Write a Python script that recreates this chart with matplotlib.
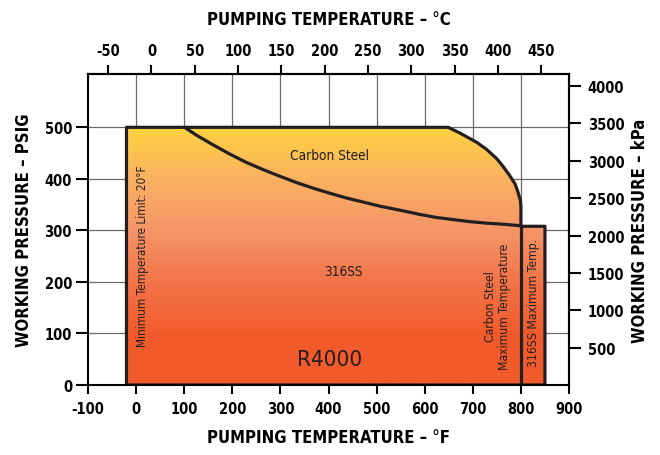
import numpy as np
import matplotlib
matplotlib.use("Agg")
import matplotlib.pyplot as plt
from matplotlib.patches import Polygon
from matplotlib.colors import LinearSegmentedColormap

plt.rcParams['font.family'] = ['DejaVu Sans']
plt.rcParams['font.stretch'] = 'condensed'
plt.rcParams['axes.unicode_minus'] = False

# ---- data ----
min_temp_f = -20
max_press_psig = 500
cs_max_temp_f = 800
ss_max_temp_f = 850
ss_max_press_psig = 308

# Carbon steel upper-right corner curve (°F, psig)
cs_curve_temp = [649, 673, 708, 729, 750, 763, 777, 788, 794, 799, 800]
cs_curve_press = [500, 489, 471, 457, 439, 424, 406, 390, 374, 358, 345]

# 316SS / carbon steel dividing curve (°F, psig)
ss_curve_temp = [101, 125, 160, 195, 229, 264, 299, 333, 368, 403, 437, 472,
                 507, 555, 590, 625, 659, 694, 729, 763, 800]
ss_curve_press = [500, 485, 466, 448, 432, 418, 405, 393, 382, 372, 363, 355,
                  347, 338, 331, 325, 321, 317, 314, 312, 309]

x_ticks_f = [-100, 0, 100, 200, 300, 400, 500, 600, 700, 800, 900]
y_ticks_psig = [0, 100, 200, 300, 400, 500]
x_ticks_c = [-50, 0, 50, 100, 150, 200, 250, 300, 350, 400, 450]
y_ticks_kpa = [500, 1000, 1500, 2000, 2500, 3000, 3500, 4000]

grad_colors = ['#F15A2B', '#F15C2D', '#F27448', '#F59568', '#FAB262', '#FFD23F']

# ---- figure ----
fig = plt.figure(figsize=(6.6, 4.56), dpi=100)
ax = fig.add_axes([88 / 660, 70 / 456, (569 - 88) / 660, (386 - 75) / 456])
ax.set_xlim(-100, 900)
ax.set_ylim(0, 603.5)

# grid
ax.set_xticks(x_ticks_f)
ax.set_yticks(y_ticks_psig)
for xv in x_ticks_f[1:-1]:
    ax.axvline(xv, color='#6a6a6a', lw=0.9, zorder=0)
for yv in y_ticks_psig[1:]:
    ax.axhline(yv, color='#6a6a6a', lw=0.9, zorder=0)

# envelope polygon
env = [(min_temp_f, 0), (min_temp_f, max_press_psig)]
env += list(zip(cs_curve_temp, cs_curve_press))
env += [(cs_max_temp_f, ss_max_press_psig), (ss_max_temp_f, ss_max_press_psig),
        (ss_max_temp_f, 0)]
poly = Polygon(env, closed=True, facecolor='none', edgecolor='#231F20',
               lw=2.3, zorder=4, joinstyle='round')
ax.add_patch(poly)

cmap = LinearSegmentedColormap.from_list('grad', grad_colors)
grad = np.linspace(0, 1, 256).reshape(-1, 1)
im = ax.imshow(grad, extent=[min_temp_f, ss_max_temp_f, 0, max_press_psig],
               origin='lower', aspect='auto', cmap=cmap, zorder=2,
               interpolation='bilinear')
clip = Polygon(env, closed=True, transform=ax.transData)
im.set_clip_path(clip)

# divider lines
ax.plot(ss_curve_temp, ss_curve_press, color='#231F20', lw=2.3, zorder=5,
        solid_capstyle='butt', solid_joinstyle='round')
ax.plot([cs_max_temp_f, cs_max_temp_f], [0, ss_max_press_psig], color='#231F20',
        lw=2.3, zorder=5)

# texts inside
tc = '#231F20'
ax.text(403, 446, 'Carbon Steel', ha='center', va='center', fontsize=9.8, color=tc, zorder=6)
ax.text(430, 221, '316SS', ha='center', va='center', fontsize=9.8, color=tc, zorder=6)
ax.text(402, 50, 'R4000', ha='center', va='center', fontsize=16, color=tc, zorder=6)
ax.text(14, 251, 'Minimum Temperature Limit: 20°F', rotation=90, ha='center',
        va='center', fontsize=8.5, color=tc, zorder=6)
ax.text(751, 154, 'Carbon Steel\nMaximum Temperature', rotation=90, ha='center',
        va='center', fontsize=8.7, color=tc, zorder=6, multialignment='center',
        linespacing=1.1)
ax.text(826, 161, '316SS Maximum Temp.', rotation=90, ha='center',
        va='center', fontsize=8.7, color=tc, zorder=6)

# spines and ticks
for s in ax.spines.values():
    s.set_linewidth(1.5)
    s.set_zorder(7)
ax.tick_params(axis='x', direction='out', length=6.5, width=1.5, labelsize=10.5, pad=5)
ax.tick_params(axis='y', direction='out', length=8.5, width=1.5, labelsize=10.5, pad=3)
for lab in ax.get_xticklabels() + ax.get_yticklabels():
    lab.set_fontweight('bold')

ax.set_xlabel('PUMPING TEMPERATURE – °F', fontsize=12, fontweight='bold', labelpad=9)
ax.set_ylabel('WORKING PRESSURE – PSIG', fontsize=12, fontweight='bold', labelpad=8)

secx = ax.secondary_xaxis('top', functions=(lambda f: (f - 32) * 5 / 9,
                                            lambda c: c * 9 / 5 + 32))
secx.set_xticks(x_ticks_c)
secx.tick_params(direction='out', length=6.5, width=1.5, labelsize=10.5, pad=5)
for lab in secx.get_xticklabels():
    lab.set_fontweight('bold')
secx.set_xlabel('PUMPING TEMPERATURE – °C', fontsize=12, fontweight='bold', labelpad=14)
secx.spines['top'].set_linewidth(1.5)

secy = ax.secondary_yaxis('right', functions=(lambda p: p * 6.89476,
                                              lambda k: k / 6.89476))
secy.set_yticks(y_ticks_kpa)
secy.tick_params(direction='out', length=8.5, width=1.5, labelsize=10.5, pad=5)
for lab in secy.get_yticklabels():
    lab.set_fontweight('bold')
secy.set_ylabel('WORKING PRESSURE – kPa', fontsize=12, fontweight='bold',
                rotation=90, labelpad=5)
secy.spines['right'].set_linewidth(1.5)

fig.savefig('out.png', dpi=100)
